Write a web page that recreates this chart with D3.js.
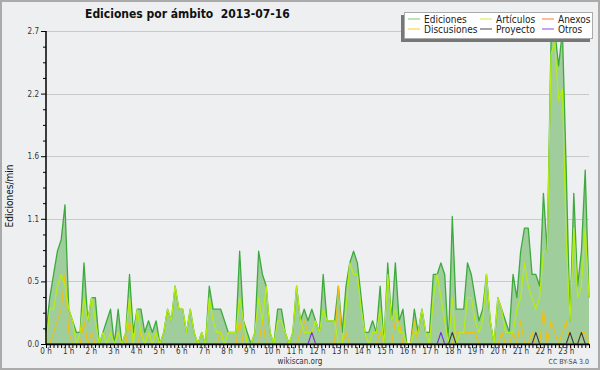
<!DOCTYPE html>
<html><head><meta charset="utf-8">
<script src="https://cdn.jsdelivr.net/npm/d3@7"></script>
<style>body{margin:0;background:#fff}svg{display:block}text{font-family:"DejaVu Sans Condensed","DejaVu Sans",sans-serif}</style>
</head><body><svg id="c" width="600" height="370"></svg>
<script>
const hourLabels = ["0 h","1 h","2 h","3 h","4 h","5 h","6 h","7 h","8 h","9 h","10 h","11 h","12 h","13 h","14 h","15 h","16 h","17 h","18 h","19 h","20 h","21 h","22 h","23 h"];
const yTicks = [0, 0.54, 1.08, 1.62, 2.16, 2.7];
const yTickLabels = ["0.0","0.5","1.1","1.6","2.2","2.7"];
const seriesNames = ["Ediciones","Discusiones","Artículos","Proyecto","Anexos","Otros"];

const ediciones = [0.1,0.4,0.6,0.8,0.9,1.2,0.3,0.2,0.1,0.1,
 0.7,0.2,0.4,0.4,0.0,0.1,0.2,0.3,0.0,0.3,
 0.0,0.1,0.6,0.1,0.3,0.3,0.1,0.2,0.1,0.2,
 0.0,0.1,0.3,0.2,0.5,0.3,0.3,0.1,0.3,0.1,
 0.0,0.1,0.0,0.5,0.3,0.3,0.3,0.2,0.1,0.1,
 0.1,0.8,0.2,0.1,0.0,0.1,0.8,0.6,0.5,0.1,
 0.0,0.3,0.3,0.1,0.0,0.1,0.5,0.2,0.3,0.2,
 0.3,0.2,0.1,0.6,0.2,0.2,0.2,0.5,0.1,0.5,
 0.7,0.8,0.7,0.4,0.1,0.1,0.2,0.1,0.5,0.0,
 0.7,0.2,0.7,0.2,0.3,0.0,0.0,0.3,0.1,0.3,
 0.1,0.1,0.6,0.6,0.7,0.6,0.0,1.1,0.3,0.3,
 0.3,0.7,0.6,0.4,0.2,0.3,0.6,0.2,0.0,0.4,
 0.3,0.2,0.1,0.6,0.4,0.8,1.0,1.0,0.6,0.6,
 0.5,1.3,0.8,2.6,2.7,2.4,2.7,1.5,0.2,1.3,
 0.5,0.8,1.5,0.4];

const articulos = [0.0,0.3,0.3,0.5,0.6,0.5,0.3,0.2,0.0,0.1,
 0.4,0.2,0.4,0.2,0.0,0.1,0.0,0.1,0.0,0.1,
 0.0,0.1,0.4,0.0,0.3,0.1,0.0,0.1,0.0,0.1,
 0.0,0.1,0.3,0.2,0.5,0.3,0.3,0.1,0.3,0.1,
 0.0,0.1,0.0,0.4,0.2,0.1,0.1,0.0,0.1,0.1,
 0.1,0.4,0.2,0.0,0.0,0.1,0.4,0.2,0.5,0.1,
 0.0,0.2,0.2,0.1,0.0,0.1,0.5,0.2,0.1,0.1,
 0.1,0.2,0.1,0.3,0.2,0.2,0.2,0.0,0.0,0.3,
 0.7,0.6,0.6,0.3,0.1,0.0,0.1,0.1,0.3,0.0,
 0.6,0.2,0.3,0.1,0.1,0.0,0.0,0.1,0.1,0.3,
 0.1,0.0,0.4,0.6,0.4,0.2,0.0,0.4,0.0,0.1,
 0.1,0.4,0.4,0.2,0.1,0.2,0.6,0.2,0.0,0.4,
 0.3,0.1,0.1,0.1,0.3,0.4,0.7,0.5,0.4,0.3,
 0.4,0.8,0.8,2.5,2.6,2.1,2.2,0.9,0.2,1.0,
 0.4,0.5,1.0,0.4];

const discusiones = [0,0,0.1,0.2,0.3,0.6,0.1,0,0,0,
 0.2,0,0.1,0,0,0,0,0,0,0,
 0,0,0.2,0,0,0.1,0,0.1,0,0.1,
 0,0,0,0,0,0,0,0,0,0,
 0,0,0,0,0,0,0.1,0,0,0,
 0,0.2,0,0,0,0,0,0.2,0,0,
 0,0,0,0,0,0,0,0.1,0.2,0.1,
 0.1,0,0,0,0,0,0,0.5,0,0.1,
 0,0,0,0,0,0,0,0,0.1,0,
 0,0,0.2,0.2,0,0,0,0.2,0,0,
 0,0,0,0,0,0,0,0,0.1,0.1,
 0.1,0.1,0.1,0.1,0,0,0,0,0,0,
 0.1,0,0,0.1,0,0.2,0,0,0.1,0,
 0,0.3,0,0.2,0.1,0,0.1,0.2,0,0,
 0,0.1,0.1,0];

const proyecto = [0,0,0,0,0,0,0,0,0,0, 0,0,0,0,0,0,0,0,0,0,
 0,0,0,0,0,0,0,0,0,0, 0,0,0,0,0,0,0,0,0,0,
 0,0,0,0,0,0,0,0,0,0, 0,0,0,0,0,0,0,0,0,0,
 0,0,0,0,0,0,0,0,0,0, 0,0,0,0,0,0,0,0,0,0,
 0,0,0,0,0,0,0,0,0,0, 0,0,0,0,0,0,0,0,0,0,
 0,0,0,0,0,0,0,0.1,0,0, 0,0,0,0,0,0,0,0,0,0,
 0,0,0,0,0,0,0,0,0,0.1, 0,0,0,0,0,0,0,0,0.1,0,
 0,0.1,0,0];

const otros = [0,0,0,0,0,0,0,0,0,0, 0,0,0,0,0,0,0,0,0,0,
 0,0,0,0,0,0,0,0,0,0, 0,0,0,0,0,0,0,0,0,0,
 0,0,0,0,0,0,0,0,0,0, 0,0,0,0,0,0,0,0,0,0,
 0,0,0,0,0,0,0,0,0,0, 0.1,0,0,0,0,0,0,0,0,0,
 0,0,0,0,0,0,0,0,0,0, 0,0,0,0,0,0,0,0,0,0,
 0,0,0,0,0.1,0,0,0,0,0, 0,0,0,0,0,0,0,0,0,0,
 0,0,0,0,0,0,0,0,0,0, 0,0,0,0,0,0,0,0,0,0,
 0,0,0,0];

const anexos = [0,0,0,0,0,0,0,0,0,0, 0,0,0,0,0,0,0,0,0,0,
 0,0,0,0,0,0,0,0,0,0, 0,0,0,0,0,0,0,0,0,0,
 0,0,0,0,0,0,0,0,0,0, 0,0,0,0,0,0,0,0,0,0,
 0,0,0,0,0,0,0,0,0,0, 0,0,0,0,0,0,0,0,0,0,
 0,0,0,0,0,0,0,0,0,0, 0,0,0,0,0,0,0,0,0,0,
 0,0,0,0,0,0,0,0,0,0, 0,0,0,0,0,0,0,0,0,0,
 0,0,0,0,0,0,0,0,0,0, 0,0,0,0,0,0,0,0,0,0,
 0,0,0,0];

const svg = d3.select("#c");
svg.append("rect").attr("x",1).attr("y",1).attr("width",598).attr("height",368)
  .attr("fill","#eeeff0").attr("stroke","#ababab").attr("stroke-width",2);

const x = d3.scaleLinear().domain([0, ediciones.length-1]).range([46, 589]);
const xh = d3.scaleLinear().domain([0, 24]).range([46, 589]);
const y = d3.scaleLinear().domain([0, 2.7]).range([344, 31]);

// grid
svg.append("g").selectAll("line").data(yTicks.slice(1)).join("line")
  .attr("x1",46).attr("x2",589).attr("y1",d=>Math.round(y(d))+0.5).attr("y2",d=>Math.round(y(d))+0.5)
  .attr("stroke","#c9cacb").attr("stroke-width",1);

// area + lines
const idx = d3.range(ediciones.length);
const area = d3.area().x(i=>x(i)).y0(y(0)).y1(i=>y(ediciones[i]));
svg.append("path").datum(idx).attr("d",area).attr("fill","#9fcd9c");
function drawLine(arr,color,w){
  svg.append("path").datum(idx).attr("fill","none").attr("stroke",color).attr("stroke-width",w)
    .attr("stroke-linejoin","round")
    .attr("d", d3.line().x(i=>x(i)).y(i=>y(arr[i])));
}
drawLine(ediciones,"#3daa3d",1.3);
drawLine(anexos,"#ff7a40",1.1);
drawLine(discusiones,"#f2c010",1.1);
drawLine(articulos,"#b6ee10",1.2);
drawLine(proyecto,"#3a3a3a",1.1);
drawLine(otros,"#7a2be0",1.1);

// y axis
const yAxis = svg.append("g").attr("transform","translate(46,0)")
  .call(d3.axisLeft(y).tickValues(yTicks).tickFormat((d,i)=>yTickLabels[i]).tickSize(5).tickPadding(2));
const minor = [];
for (let k=0;k<yTicks.length-1;k++){ for(let j=1;j<4;j++){ minor.push(yTicks[k]+(yTicks[k+1]-yTicks[k])*j/4); } }
svg.append("g").attr("transform","translate(46,0)")
  .call(d3.axisLeft(y).tickValues(minor).tickFormat("").tickSize(3).tickSizeOuter(0))
  .select(".domain").remove();
yAxis.select(".domain").attr("stroke","#000").attr("stroke-width",1.5).attr("d","M0,31V344");
yAxis.selectAll("text").attr("font-size","8px").attr("fill","#333").attr("font-family",'"DejaVu Sans Condensed","DejaVu Sans",sans-serif');

// x axis
const xMinor = d3.range(0, 24*6+1).map(k=>k/6);
const xAxis = svg.append("g").attr("transform","translate(0,344)")
  .call(d3.axisBottom(xh).tickValues(xMinor).tickFormat("").tickSize(4).tickSizeOuter(0));
xAxis.select(".domain").attr("stroke","#000").attr("stroke-width",1.5);
xAxis.selectAll(".tick line").attr("stroke","#000");
svg.append("g").selectAll("text").data(hourLabels).join("text")
  .attr("x",(d,i)=>xh(i)).attr("y",354).attr("text-anchor","middle")
  .attr("font-size","8px").attr("fill","#333").text(d=>d);

// texts
svg.append("text").attr("x",85).attr("y",18).attr("font-size","12px").attr("font-weight","bold")
  .attr("fill","#111").style("white-space","pre").text("Ediciones por ámbito  2013-07-16");
svg.append("text").attr("transform","translate(13,196) rotate(-90)").attr("text-anchor","middle")
  .attr("font-size","10px").attr("fill","#111").text("Ediciones/min");
svg.append("text").attr("x",300).attr("y",364).attr("text-anchor","middle").attr("font-size","8px").attr("fill","#333").text("wikiscan.org");
svg.append("text").attr("x",589).attr("y",364).attr("text-anchor","end").attr("font-size","7px").attr("fill","#444").text("CC BY-SA  3.0");

// legend
const lg = svg.append("g");
lg.append("rect").attr("x",401).attr("y",15).attr("width",189).attr("height",27).attr("fill","#777");
lg.append("rect").attr("x",404.5).attr("y",12.5).attr("width",188).attr("height",26).attr("fill","#fff").attr("stroke","#aaa");
const legendColors = {"Ediciones":"#8fd08f","Discusiones":"#ffd24a","Artículos":"#d2f25a","Proyecto":"#666","Anexos":"#ff8f5c","Otros":"#a066f0"};
const colX = [408, 480, 542];
seriesNames.forEach((n,k)=>{
  const c = Math.floor(k/2), r = k%2;
  const yy = r===0 ? 19 : 29;
  lg.append("line").attr("x1",colX[c]).attr("x2",colX[c]+12).attr("y1",yy).attr("y2",yy)
    .attr("stroke",legendColors[n]).attr("stroke-width",1.2);
  lg.append("text").attr("x",colX[c]+16).attr("y",yy+4).attr("font-size","10px").attr("fill","#222").text(n);
});
</script></body></html>
